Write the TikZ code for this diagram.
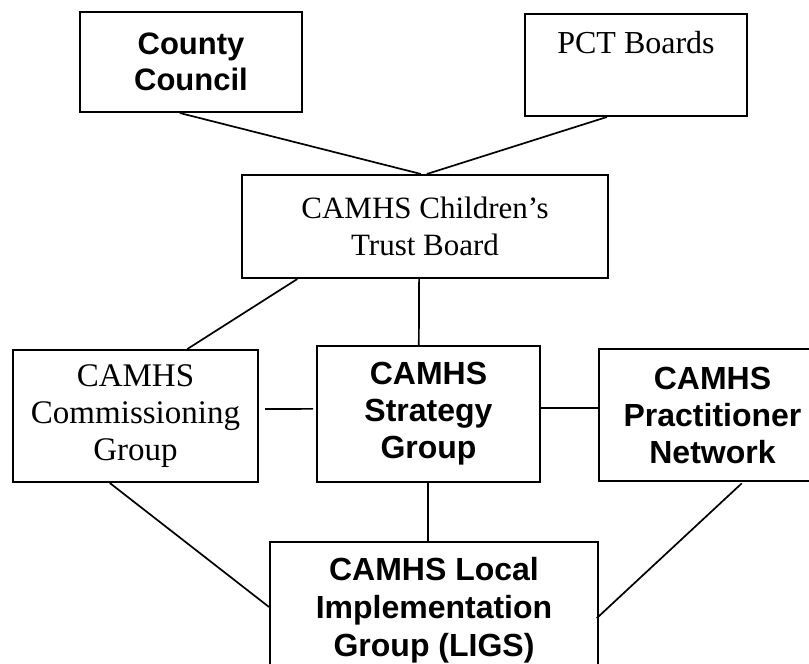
\documentclass[tikz,border=0pt]{standalone}
\usepackage{fontspec}
\setmainfont{Liberation Serif}
\newfontfamily\sansbold{Liberation Sans Bold}
\usetikzlibrary{calc}
\tikzset{
  box/.style={draw=black, line width=2pt, fill=white, inner sep=0pt, align=center, anchor=north west},
  serifbox/.style={box, font=\fontsize{31}{37}\selectfont},
  sansbox/.style={box, font=\sansbold\fontsize{32}{37}\selectfont},
  link/.style={draw=black, line width=1.7pt},
}
\begin{document}
\begin{tikzpicture}[x=1pt, y=-1pt]
\useasboundingbox (0,0) rectangle (809,664);
\clip (0,0) rectangle (809,664);
\fill[white] (0,0) rectangle (809,664);
% boxes
\node[sansbox, font=\sansbold\fontsize{31}{36}\selectfont, minimum width=222pt, minimum height=100pt] (cc) at (79,11) {County\\Council};
\node[serifbox, font=\fontsize{32}{37}\selectfont, minimum width=222pt, text height=39pt, text depth=63pt] (pct) at (524,13) {PCT Boards};
\node[serifbox, minimum width=366pt, minimum height=103pt] (trust) at (241,174) {CAMHS Children’s\\Trust Board};
\node[serifbox, font=\fontsize{33}{37}\selectfont, minimum width=245pt, minimum height=132pt] (comm) at (12,349) {CAMHS\\Commissioning\\Group};
\node[sansbox, minimum width=223pt, minimum height=136pt] (strat) at (316,345) {CAMHS\\Strategy\\Group};
\node[sansbox, minimum width=227pt, minimum height=132pt] (prac) at (598,348) {CAMHS\\Practitioner\\Network};
\node[sansbox, font=\sansbold\fontsize{32}{38}\selectfont, minimum width=328pt, minimum height=136pt] (ligs) at (269,541) {CAMHS Local\\Implementation\\Group (LIGS)};
% connectors
\draw[link] ($(cc.south west)!0.45!(cc.south east)$) -- ($(trust.north west)!0.489!(trust.north east)$);
\draw[link] ($(pct.south west)!0.37!(pct.south east)$) -- ($(trust.north west)!0.505!(trust.north east)$);
\draw[link] ($(trust.south west)!0.153!(trust.south east)$) -- ($(comm.north west)!0.71!(comm.north east)$);
\draw[link] ($(trust.south west)!0.484!(trust.south east)$) -- ($(strat.north west)!0.457!(strat.north east)$);
\draw[link, shorten <=6pt, shorten >=3pt] ($(comm.north east)!0.447!(comm.south east)$) -- ($(strat.north west)!0.463!(strat.south west)$);
\draw[link] ($(strat.north east)!0.456!(strat.south east)$) -- ($(prac.north west)!0.447!(prac.south west)$);
\draw[link] ($(strat.south west)!0.498!(strat.south east)$) -- ($(ligs.north west)!0.482!(ligs.north east)$);
\draw[link] ($(comm.south west)!0.396!(comm.south east)$) -- ($(ligs.north west)!0.478!(ligs.south west)$);
\draw[link, shorten <=2pt, shorten >=-3pt] ($(prac.south west)!0.634!(prac.south east)$) -- ($(ligs.north east)!0.544!(ligs.south east)$);
\end{tikzpicture}
\end{document}
